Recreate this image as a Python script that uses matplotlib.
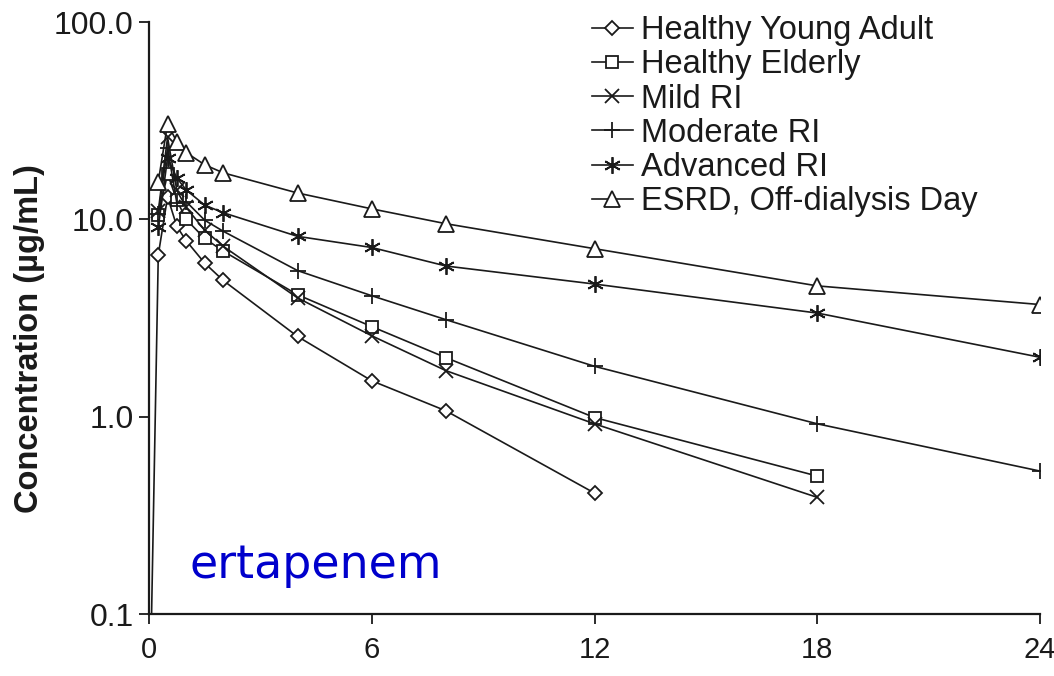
import matplotlib
matplotlib.use("Agg")
import matplotlib.pyplot as plt
from matplotlib.ticker import FixedLocator, NullLocator

# sampling times (h) and mean concentrations (ug/mL)
t_young = [0, 0.25, 0.5, 0.75, 1, 1.5, 2, 4, 6, 8, 12]
c_young = [0.02, 6.6, 13.0, 9.2, 7.8, 6.0, 4.9, 2.55, 1.52, 1.07, 0.41]

t_elderly = [0.25, 0.5, 0.75, 1, 1.5, 2, 4, 6, 8, 12, 18]
c_elderly = [10.5, 17.0, 12.5, 10.0, 8.0, 6.9, 4.15, 2.86, 1.99, 0.99, 0.50]

t_mild = [0.25, 0.5, 0.75, 1, 1.5, 2, 4, 6, 8, 12, 18]
c_mild = [11.0, 26.0, 14.0, 11.5, 8.8, 7.3, 4.0, 2.57, 1.71, 0.92, 0.39]

t_moderate = [0.25, 0.5, 0.75, 1, 1.5, 2, 4, 6, 8, 12, 18, 24]
c_moderate = [10.6, 23.0, 12.1, 12.3, 9.9, 8.7, 5.5, 4.1, 3.1, 1.8, 0.92, 0.53]

t_advanced = [0.25, 0.5, 0.75, 1, 1.5, 2, 4, 6, 8, 12, 18, 24]
c_advanced = [9.1, 20.5, 16.2, 14.1, 11.8, 10.8, 8.2, 7.2, 5.8, 4.7, 3.35, 2.0]

t_esrd = [0.25, 0.5, 0.75, 1, 1.5, 2, 4, 6, 8, 12, 18, 24]
c_esrd = [15.5, 30.5, 24.7, 21.8, 18.9, 17.2, 13.6, 11.3, 9.5, 7.1, 4.6, 3.7]

labels = ["Healthy Young Adult", "Healthy Elderly", "Mild RI",
          "Moderate RI", "Advanced RI", "ESRD, Off-dialysis Day"]
x_ticks = [0, 6, 12, 18, 24]
y_ticks = [0.1, 1, 10, 100]
y_ticklabels = ["0.1", "1.0", "10.0", "100.0"]

ink = "#1a1a1a"
sans = ["Liberation Sans", "DejaVu Sans"]

fig = plt.figure(figsize=(10.54, 6.76), dpi=100)
ax = fig.add_axes([149 / 1054, 1 - 614 / 676, (1040 - 149) / 1054, (614 - 22) / 676])

common = dict(color=ink, lw=1.2, markeredgecolor=ink, markeredgewidth=1.3)
series = [
    (t_young, c_young, "D", 7.5, "white"),
    (t_elderly, c_elderly, "s", 8.5, "white"),
    (t_mild, c_mild, "x", 10, ink),
    (t_moderate, c_moderate, "+", 12, ink),
    (t_advanced, c_advanced, (6, 2, 0), 12, ink),
    (t_esrd, c_esrd, "^", 11, "white"),
]
handles = []
for (t, c, m, ms, fc), lab in zip(series, labels):
    # pre-dose point only carries the line, no marker
    every = list(range(1, len(t))) if t[0] == 0 else None
    h, = ax.plot(t, c, marker=m, ms=ms, mfc=fc, markevery=every, label=lab, **common)
    handles.append(h)

ax.set_yscale("log")
ax.set_xlim(0, 24)
ax.set_ylim(0.1, 100)
ax.yaxis.set_major_locator(FixedLocator(y_ticks))
ax.yaxis.set_minor_locator(NullLocator())
ax.set_yticklabels(y_ticklabels, fontsize=23, family=sans, color=ink)
ax.set_xticks(x_ticks)
ax.set_xticklabels([str(v) for v in x_ticks], fontsize=21, family=sans, color=ink)
ax.tick_params(direction="out", length=7, width=1.3, color=ink, pad=4)
ax.tick_params(axis="x", pad=9)

for side in ("top", "right"):
    ax.spines[side].set_visible(False)
for side in ("left", "bottom"):
    ax.spines[side].set_linewidth(1.6)
    ax.spines[side].set_color(ink)

fig.text(30 / 1054, 1 - 339 / 676, "Concentration (\u00b5g/mL)", rotation=90,
         fontsize=23.5, fontweight="bold", family=sans, color=ink,
         ha="center", va="center")

leg = ax.legend(handles=handles, loc="upper left", bbox_to_anchor=(592 / 1054, 1 - 15 / 676),
                bbox_transform=fig.transFigure, frameon=False, handlelength=1.25,
                handletextpad=0.25, labelspacing=0.1, borderpad=0, borderaxespad=0,
                prop={"family": sans, "size": 23.5})
for txt in leg.get_texts():
    txt.set_color(ink)

ax.text(190 / 1054, 1 - 566 / 676, "ertapenem", transform=fig.transFigure,
        fontsize=33, color="#0000cc", family="DejaVu Sans", va="center", ha="left")

fig.savefig("out.png", dpi=100)
